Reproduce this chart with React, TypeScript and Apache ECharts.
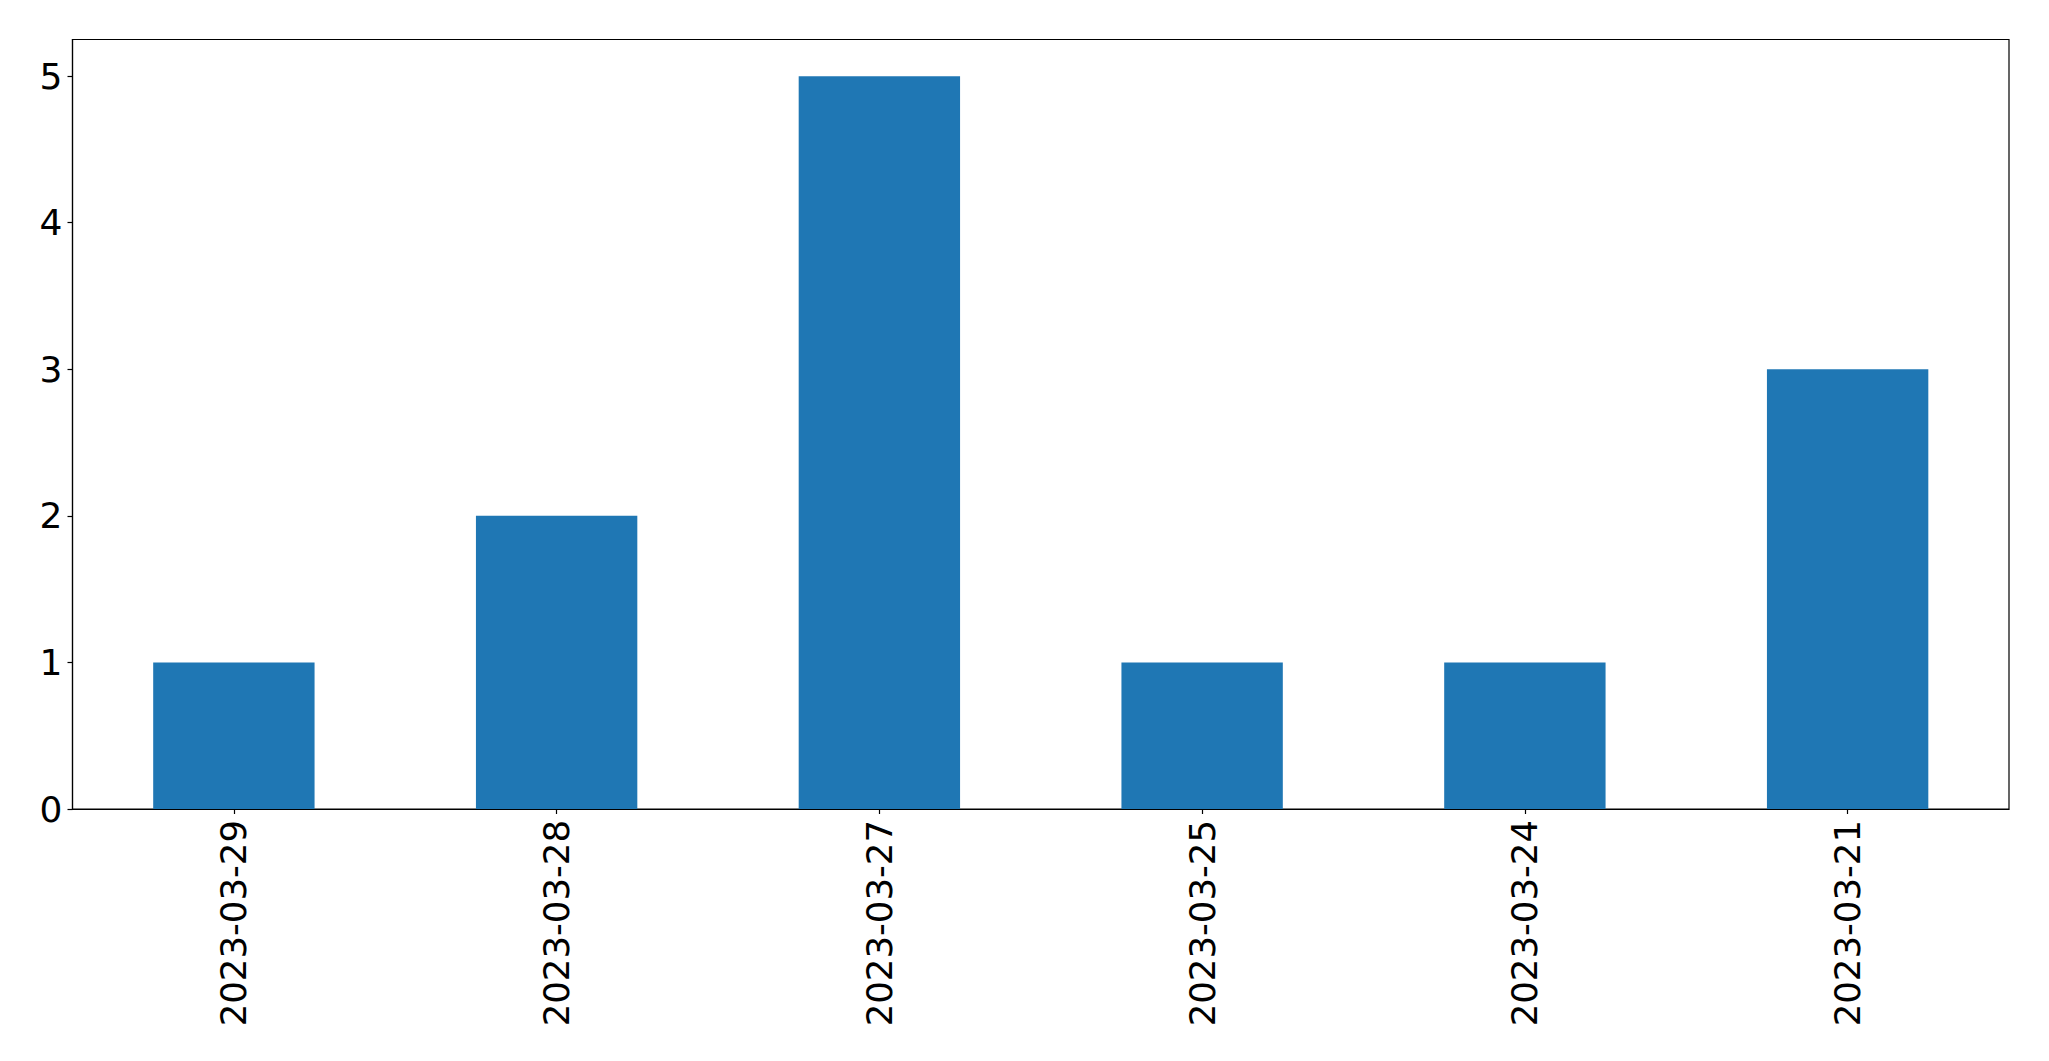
import React, { useEffect, useRef } from "react";
import * as echarts from "echarts";

const categories = ["2023-03-29", "2023-03-28", "2023-03-27", "2023-03-25", "2023-03-24", "2023-03-21"];
const values = [1, 2, 5, 1, 1, 3];
const yTicks = [0, 1, 2, 3, 4, 5];

export default function App() {
  const ref = useRef<HTMLDivElement>(null);
  useEffect(() => {
    if (!ref.current) return;
    const chart = echarts.init(ref.current, null, { renderer: "svg" });
    chart.setOption({
      animation: false,
      backgroundColor: "#ffffff",
      grid: {
        left: 72.5,
        right: 40,
        top: 39.5,
        bottom: 252,
        containLabel: false,
        show: true,
        borderColor: "#000000",
        borderWidth: 1.2,
        backgroundColor: "transparent",
      },
      xAxis: {
        type: "category",
        data: categories,
        boundaryGap: true,
        axisLine: { show: true, lineStyle: { color: "#000", width: 1.2 } },
        axisTick: { show: true, alignWithLabel: true, length: 5, lineStyle: { color: "#000", width: 1.2 } },
        axisLabel: {
          rotate: 90,
          margin: 11,
          color: "#000",
          fontSize: 35.5,
          fontFamily: "DejaVu Sans",
        },
        splitLine: { show: false },
      },
      yAxis: {
        type: "value",
        min: 0,
        max: 5.25,
        interval: 1,
        axisLine: { show: true, lineStyle: { color: "#000", width: 1.2 } },
        axisTick: { show: true, length: 5, lineStyle: { color: "#000", width: 1.2 }, customValues: yTicks },
        axisLabel: {
          color: "#000",
          fontSize: 36,
          fontFamily: "DejaVu Sans",
          margin: 10,
          customValues: yTicks,
        },
        splitLine: { show: false },
      },
      series: [
        {
          type: "bar",
          data: values,
          barWidth: "50%",
          itemStyle: { color: "#1f77b4" },
        },
      ],
    });
    return () => chart.dispose();
  }, []);
  return (
    <div
      ref={ref}
      style={{ position: "fixed", left: 0, top: 0, width: 2049, height: 1061, background: "#fff" }}
    />
  );
}
